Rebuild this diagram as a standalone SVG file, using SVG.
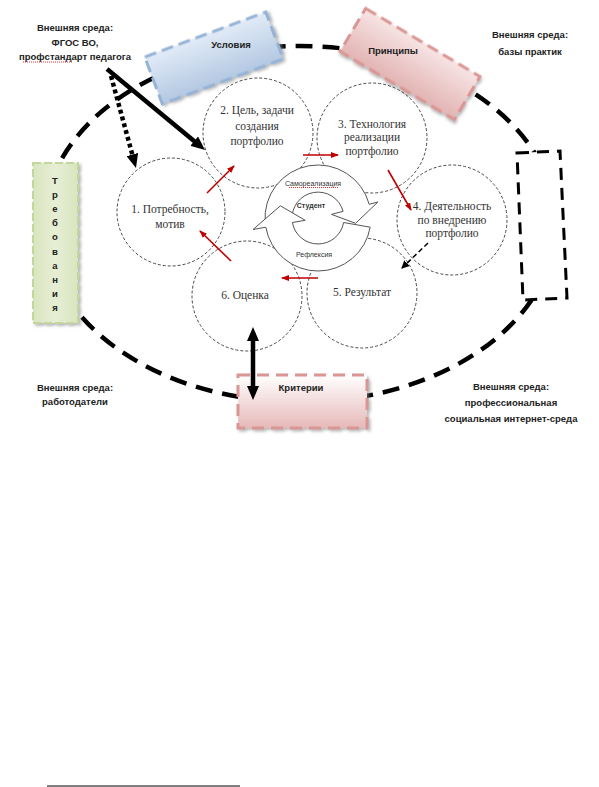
<svg xmlns="http://www.w3.org/2000/svg" width="599" height="787" viewBox="0 0 599 787">
<defs>
<style>
.ext{font-family:"Liberation Sans",Arial,sans-serif;font-size:9.5px;font-weight:bold;fill:#222;text-anchor:middle}
.lbl{font-family:"Liberation Sans",Arial,sans-serif;font-size:9.5px;font-weight:bold;fill:#222;text-anchor:middle}
.circ{fill:none;stroke:#333;stroke-width:0.9;stroke-dasharray:3 2}
.ctext{font-family:"Liberation Serif","Times New Roman",serif;font-size:11.5px;fill:#333;text-anchor:middle}
.cyc{fill:#fff;stroke:#555;stroke-width:1}
.ctxt{font-family:"Liberation Sans",Arial,sans-serif;font-size:7px;fill:#333;text-anchor:middle}
.red{stroke:#c00000;stroke-width:1.6;fill:none;marker-end:url(#redHead)}
.thick{stroke:#000;stroke-width:4.5;fill:none}
.squig{stroke:#d00;stroke-width:0.8;fill:none;stroke-dasharray:1 1}
</style>
<linearGradient id="gBlue" x1="0" y1="0" x2="0" y2="1"><stop offset="0" stop-color="#e2ebf7"/><stop offset="1" stop-color="#b3c8e2"/></linearGradient>
<linearGradient id="gPink" x1="0" y1="0" x2="0" y2="1"><stop offset="0" stop-color="#f7e4e4"/><stop offset="1" stop-color="#e2b4b3"/></linearGradient>
<linearGradient id="gPink2" x1="0" y1="0" x2="0" y2="1"><stop offset="0" stop-color="#ffffff"/><stop offset="1" stop-color="#e6b9b8"/></linearGradient>
<linearGradient id="gGreen" x1="0" y1="0" x2="1" y2="0"><stop offset="0" stop-color="#d9e5bf"/><stop offset="0.5" stop-color="#e6eed4"/><stop offset="1" stop-color="#d9e5bf"/></linearGradient>
<filter id="sh" x="-20%" y="-20%" width="140%" height="140%"><feDropShadow dx="2" dy="2" stdDeviation="1.5" flood-color="#888" flood-opacity="0.6"/></filter>
<marker id="bigHead" viewBox="0 0 14 12" markerUnits="userSpaceOnUse" markerWidth="14" markerHeight="12" refX="8" refY="6" orient="auto-start-reverse"><path d="M0,0 L14,6 L0,12 z" fill="#000"/></marker>
<marker id="redHead" viewBox="0 0 8 6" markerUnits="userSpaceOnUse" markerWidth="8" markerHeight="6" refX="7" refY="3" orient="auto"><path d="M0,0 L8,3 L0,6 z" fill="#c00000"/></marker>
<marker id="smallHead" viewBox="0 0 8 8" markerUnits="userSpaceOnUse" markerWidth="8" markerHeight="8" refX="7" refY="4" orient="auto"><path d="M0,0 L8,4 L0,8 z" fill="#000"/></marker>
</defs>
<rect width="599" height="787" fill="#fff"/>

<g id="outer-cycle">
<ellipse cx="300" cy="224" rx="256" ry="178" fill="none" stroke="#000" stroke-width="4.5" stroke-dasharray="17 10"/>
</g>

<g id="node-usloviya" transform="translate(214,58) rotate(-20.4)">
<rect x="-64.5" y="-25" width="129" height="50" fill="url(#gBlue)" stroke="#95b3d7" stroke-width="3" stroke-dasharray="12 6" filter="url(#sh)"/>
</g>
<text class="lbl" x="231" y="48">Условия</text>

<g id="node-principy" transform="translate(410,64) rotate(30.8)">
<rect x="-66.5" y="-25" width="133" height="50" fill="url(#gPink)" stroke="#d99694" stroke-width="3" stroke-dasharray="12 6" filter="url(#sh)"/>
</g>
<text class="lbl" x="393" y="54">Принципы</text>

<g id="node-trebovaniya">
<rect x="33" y="163" width="45" height="160" fill="url(#gGreen)" stroke="#c3d69b" stroke-width="2" stroke-dasharray="8 3" filter="url(#sh)"/>
<g class="lbl">
<text x="55" y="183.5">Т</text><text x="55" y="197.7">р</text><text x="55" y="211.9">е</text><text x="55" y="226.1">б</text><text x="55" y="240.3">о</text><text x="55" y="254.5">в</text><text x="55" y="268.7">а</text><text x="55" y="282.9">н</text><text x="55" y="297.1">и</text><text x="55" y="311.3">я</text>
</g>
</g>

<g id="node-right-box">
<polygon points="517,153 560,151 567,298 523,300" fill="#fff" stroke="#000" stroke-width="3" stroke-dasharray="12 8"/>
</g>

<g id="node-kriterii">
<rect x="238" y="375" width="129" height="53" fill="url(#gPink2)" stroke="#d99694" stroke-width="3" stroke-dasharray="12 7" filter="url(#sh)"/>
<text class="lbl" x="301" y="391">Критерии</text>
</g>

<g id="ext-texts">
<g id="ext-fgos"><text class="ext" x="75" y="31">Внешняя среда:</text><text class="ext" x="75" y="46">ФГОС ВО,</text><text class="ext" x="75" y="60">профстандарт педагога</text><path class="squig" d="M23,62 L73,62"/></g>
<g id="ext-bazy"><text class="ext" x="530" y="38">Внешняя среда:</text><text class="ext" x="530" y="55">базы практик</text></g>
<g id="ext-rabotodateli"><text class="ext" x="75" y="391">Внешняя среда:</text><text class="ext" x="75" y="405">работодатели</text></g>
<g id="ext-internet"><text class="ext" x="511" y="390">Внешняя среда:</text><text class="ext" x="511" y="406">профессиональная</text><text class="ext" x="511" y="422">социальная интернет-среда</text></g>
</g>

<g id="node-1"><circle class="circ" cx="171" cy="212" r="54"/><text class="ctext" x="170" y="213">1. Потребность,</text><text class="ctext" x="170" y="228">мотив</text></g>
<g id="node-2"><circle class="circ" cx="258" cy="133" r="55"/><text class="ctext" x="257" y="114">2. Цель, задачи</text><text class="ctext" x="257" y="130">создания</text><text class="ctext" x="257" y="145">портфолио</text></g>
<g id="node-3"><circle class="circ" cx="372" cy="138" r="55"/><text class="ctext" x="372" y="128">3. Технология</text><text class="ctext" x="372" y="141">реализации</text><text class="ctext" x="372" y="155">портфолио</text></g>
<g id="node-4"><circle class="circ" cx="452" cy="220" r="55"/><text class="ctext" x="452" y="210">4. Деятельность</text><text class="ctext" x="452" y="224">по внедрению</text><text class="ctext" x="452" y="237">портфолио</text></g>
<g id="node-5"><circle class="circ" cx="362" cy="293" r="55"/><text class="ctext" x="362" y="296">5. Результат</text></g>
<g id="node-6"><circle class="circ" cx="247" cy="296" r="55"/><text class="ctext" x="245" y="299">6. Оценка</text></g>

<g id="node-center">
<path class="cyc" d="M265.2,222.6 A53,53 0 0 1 369.2,204.3 L377.9,202 L355.6,223.3 L331.5,214.4 L343.1,211.3 A26,26 0 0 0 292.1,220.3 Z"/>
<path class="cyc" d="M370.2,227.2 A53,53 0 0 1 265.8,227.2 L253,229.5 L280.4,205.8 L305.2,220.3 L292.4,222.5 A26,26 0 0 0 343.6,222.5 Z"/>
<text class="ctxt" x="313" y="185.5">Самореализация</text>
<path class="squig" d="M289,187.5 L338,187.5"/>
<text class="ctxt" x="311" y="207.5" font-weight="bold">Студент</text>
<text class="ctxt" x="314" y="256.5">Рефлексия</text>
</g>

<g id="connectors">
<line class="thick" x1="107" y1="69" x2="200.4" y2="146.2" marker-end="url(#bigHead)"/>
<line class="thick" x1="111" y1="76" x2="134.4" y2="162.2" stroke-dasharray="4 3" marker-end="url(#bigHead)"/>
<line class="thick" x1="253" y1="333" x2="253" y2="394" marker-start="url(#bigHead)" marker-end="url(#bigHead)"/>
<line x1="428" y1="243" x2="402" y2="268" stroke="#000" stroke-width="1.5" stroke-dasharray="5 3" marker-end="url(#smallHead)"/>
<line class="red" x1="207" y1="193" x2="234" y2="166"/>
<line class="red" x1="303" y1="155" x2="338" y2="155"/>
<line class="red" x1="388" y1="170" x2="411" y2="210"/>
<line class="red" x1="318" y1="278" x2="282" y2="278"/>
<line class="red" x1="231" y1="261" x2="200" y2="231"/>
</g>

<line x1="47" y1="786" x2="240" y2="786" stroke="#000" stroke-width="1"/>
</svg>
